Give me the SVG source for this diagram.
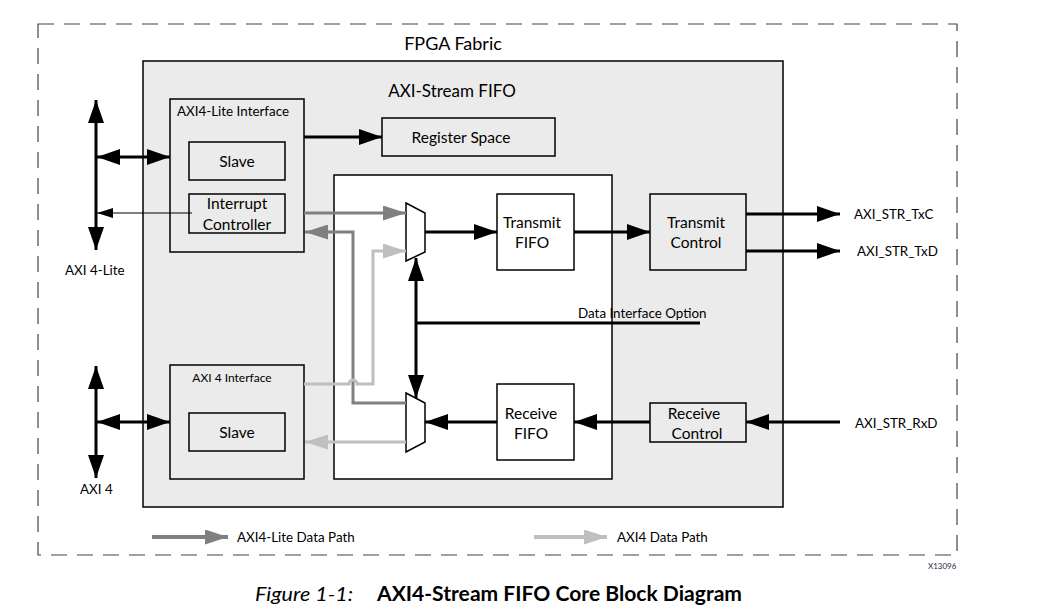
<svg xmlns="http://www.w3.org/2000/svg" width="1048" height="610" viewBox="0 0 1048 610">
<style>
text{font-family:Lato,"Open Sans","Liberation Sans",sans-serif;fill:#000}
.box{stroke:#000;stroke-width:1.5}
.g{fill:#ebebeb}
.w{fill:#fff}
.t13{font-size:15.5px;text-anchor:middle;dominant-baseline:central}
.t12{font-size:13.4px;dominant-baseline:central}
.blk{stroke:#000;stroke-width:3;fill:none}
.dg{stroke:#808080;stroke-width:3;fill:none}
.lg{stroke:#bfbfbf;stroke-width:3;fill:none}
</style>
<defs>
<marker id="ab" viewBox="0 0 23 16" refX="23" refY="8" markerWidth="23" markerHeight="16" markerUnits="userSpaceOnUse" orient="auto-start-reverse"><path d="M0,0L23,8L0,16Z" fill="#000"/></marker>
<marker id="as" viewBox="0 0 16 10" refX="16" refY="5" markerWidth="16" markerHeight="10" markerUnits="userSpaceOnUse" orient="auto"><path d="M0,0L16,5L0,10Z" fill="#000"/></marker>
<marker id="ad" viewBox="0 0 23 15" refX="23" refY="7.5" markerWidth="23" markerHeight="15" markerUnits="userSpaceOnUse" orient="auto"><path d="M0,0L23,7.5L0,15Z" fill="#808080"/></marker>
<marker id="al" viewBox="0 0 23 15" refX="23" refY="7.5" markerWidth="23" markerHeight="15" markerUnits="userSpaceOnUse" orient="auto"><path d="M0,0L23,7.5L0,15Z" fill="#bfbfbf"/></marker>
</defs>
<rect width="1048" height="610" fill="#fff"/>
<g id="fpga-fabric">
<rect x="38" y="24" width="919" height="531" fill="none" stroke="#444" stroke-width="1.2" stroke-dasharray="16,10"/>
<text x="453" y="43" style="font-size:18px;text-anchor:middle;dominant-baseline:central">FPGA Fabric</text>
</g>
<g id="axi-stream-fifo">
<rect x="143" y="61" width="640" height="446" class="box g" stroke-width="2"/>
<text x="452" y="90" style="font-size:17px;text-anchor:middle;dominant-baseline:central">AXI-Stream FIFO</text>
</g>
<g id="inner-datapath">
<rect x="334" y="175" width="278" height="304" class="box w"/>
</g>
<g id="axi4lite-interface">
<rect x="170" y="99" width="134" height="153" class="box g"/>
<text x="177" y="111" class="t12">AXI4-Lite Interface</text>
</g>
<g id="lite-slave">
<rect x="189" y="142" width="96" height="38" class="box g"/>
<text x="237" y="161" class="t13">Slave</text>
</g>
<g id="interrupt-controller">
<rect x="189" y="194" width="96" height="39" class="box g"/>
<text x="237" y="203" class="t13">Interrupt</text>
<text x="237" y="224" class="t13">Controller</text>
</g>
<g id="register-space">
<rect x="382" y="118" width="173" height="38" class="box g"/>
<text x="461" y="137" class="t13">Register Space</text>
</g>
<g id="axi4-interface">
<rect x="170" y="365" width="134" height="114" class="box g"/>
<text x="232" y="377" style="font-size:12px;text-anchor:middle;dominant-baseline:central">AXI 4 Interface</text>
</g>
<g id="axi4-slave">
<rect x="189" y="413" width="96" height="38" class="box g"/>
<text x="237" y="432" class="t13">Slave</text>
</g>
<g id="tx-mux">
<path d="M406,203L425,213L425,252L406,261Z" class="box w"/>
</g>
<g id="rx-mux">
<path d="M406,393L425,403L425,442L406,452Z" class="box w"/>
</g>
<g id="transmit-fifo">
<rect x="497" y="194" width="77" height="76" class="box w"/>
<text x="532" y="222" class="t13">Transmit</text>
<text x="532" y="242" class="t13">FIFO</text>
</g>
<g id="transmit-control">
<rect x="650" y="194" width="96" height="76" class="box g"/>
<text x="696" y="222" class="t13">Transmit</text>
<text x="696" y="242" class="t13">Control</text>
</g>
<g id="receive-fifo">
<rect x="497" y="384" width="77" height="76" class="box w"/>
<text x="531" y="413" class="t13">Receive</text>
<text x="531" y="433" class="t13">FIFO</text>
</g>
<g id="receive-control">
<rect x="650" y="403" width="96" height="39" class="box g"/>
<text x="694" y="413" class="t13">Receive</text>
<text x="697" y="433" class="t13">Control</text>
</g>
<g id="connectors">
<path d="M96,100V250" class="blk" marker-start="url(#ab)" marker-end="url(#ab)"/>
<path d="M97,157H170" class="blk" marker-start="url(#ab)" marker-end="url(#ab)"/>
<path d="M192,213H97" stroke="#000" stroke-width="1" fill="none" marker-end="url(#as)"/>
<path d="M96,366V478" class="blk" marker-start="url(#ab)" marker-end="url(#ab)"/>
<path d="M97,422H170" class="blk" marker-start="url(#ab)" marker-end="url(#ab)"/>
<path d="M304,137H382" class="blk" marker-end="url(#ab)"/>
<path d="M304,213H406" class="dg" marker-end="url(#ad)"/>
<path d="M406,403H353V232H305" class="dg" marker-end="url(#ad)"/>
<path d="M304,384H349A4,4 0 0 1 357,384H373V251H406" class="lg" marker-end="url(#al)"/>
<path d="M406,442H305" class="lg" marker-end="url(#al)"/>
<path d="M425,232H497" class="blk" marker-end="url(#ab)"/>
<path d="M574,232H650" class="blk" marker-end="url(#ab)"/>
<path d="M746,214H840" class="blk" marker-end="url(#ab)"/>
<path d="M746,251H840" class="blk" marker-end="url(#ab)"/>
<path d="M416,258V398" class="blk" marker-start="url(#ab)" marker-end="url(#ab)"/>
<path d="M416,323H700" class="blk"/>
<path d="M840,422H746" class="blk" marker-end="url(#ab)"/>
<path d="M650,422H574" class="blk" marker-end="url(#ab)"/>
<path d="M497,422H425" class="blk" marker-end="url(#ab)"/>
</g>
<g id="labels">
<text x="65" y="270" class="t12">AXI 4-Lite</text>
<text x="80" y="489" class="t12">AXI 4</text>
<text x="578" y="313" class="t12">Data Interface Option</text>
<text x="854" y="214" class="t12">AXI_STR_TxC</text>
<text x="857" y="251" class="t12">AXI_STR_TxD</text>
<text x="855" y="423" class="t12">AXI_STR_RxD</text>
</g>
<g id="legend">
<path d="M152,537H228" stroke="#808080" stroke-width="4" fill="none" marker-end="url(#ad)"/>
<text x="237" y="537" class="t12">AXI4-Lite Data Path</text>
<path d="M534,537H607" stroke="#bfbfbf" stroke-width="4" fill="none" marker-end="url(#al)"/>
<text x="617" y="537" class="t12">AXI4 Data Path</text>
</g>
<text x="928" y="566" style="font-size:8px;fill:#1f2a44;dominant-baseline:central">X13096</text>
<text x="255" y="593" textLength="98" lengthAdjust="spacingAndGlyphs" style="font-size:20px;font-style:italic;dominant-baseline:central">Figure 1-1:</text>
<text x="377" y="593" textLength="365" lengthAdjust="spacingAndGlyphs" style="font-size:20px;font-weight:bold;dominant-baseline:central">AXI4-Stream FIFO Core Block Diagram</text>
</svg>
